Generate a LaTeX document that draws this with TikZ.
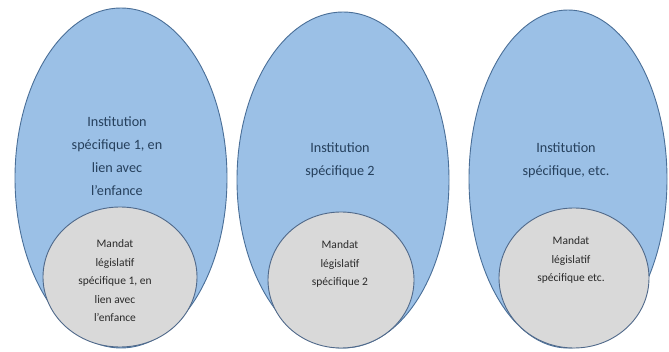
\documentclass[tikz,border=0pt]{standalone}
\usepackage{fontspec}
\setmainfont{Carlito}
\usetikzlibrary{shapes.geometric}
\definecolor{instfill}{HTML}{9BC0E6}
\definecolor{instline}{HTML}{4A6F98}
\definecolor{insttext}{HTML}{26405C}
\definecolor{mandfill}{HTML}{D9D9D9}
\definecolor{mandline}{HTML}{50698A}
\definecolor{mandtext}{HTML}{2A2A2A}
\tikzset{
  inst/.style={ellipse, draw=instline, fill=instfill, line width=0.9pt, inner sep=0pt},
  mand/.style={ellipse, draw=mandline, fill=mandfill, line width=0.9pt, inner sep=0pt},
  insttxt/.style={align=center, text=insttext, font=\fontsize{14.2}{23}\selectfont},
  mandtxt/.style={align=center, text=mandtext, font=\fontsize{11.5}{18.5}\selectfont}
}
\begin{document}
\begin{tikzpicture}[x=1pt,y=1pt]
\useasboundingbox (0,0) rectangle (669,351);
\fill[white] (0,0) rectangle (669,351);
% ellipses
\node[inst, minimum width=212pt, minimum height=340pt] (e1) at (121,173) {};
\node[inst, minimum width=212pt, minimum height=336pt] (e2) at (343,171) {};
\node[inst, minimum width=198pt, minimum height=338pt] (e3) at (568,172) {};
% circles
\node[mand, minimum width=154pt, minimum height=140pt] (c1) at (120,74) {};
\node[mand, minimum width=146pt, minimum height=136pt] (c2) at (341,71) {};
\node[mand, minimum width=150pt, minimum height=140pt] (c3) at (574,73) {};
% texts
\node[insttxt] (t1) at (117,195) {Institution\\spécifique 1, en\\lien avec\\l'enfance};
\node[insttxt] (t2) at (340,191) {Institution\\spécifique 2};
\node[insttxt] (t3) at (566,191) {Institution\\spécifique, etc.};
\node[mandtxt] (m1) at (115,70) {Mandat\\législatif\\spécifique 1, en\\lien avec\\l'enfance};
\node[mandtxt] (m2) at (340,87) {Mandat\\législatif\\spécifique 2};
\node[mandtxt] (m3) at (571,91) {Mandat\\législatif\\spécifique etc.};
\end{tikzpicture}
\end{document}
